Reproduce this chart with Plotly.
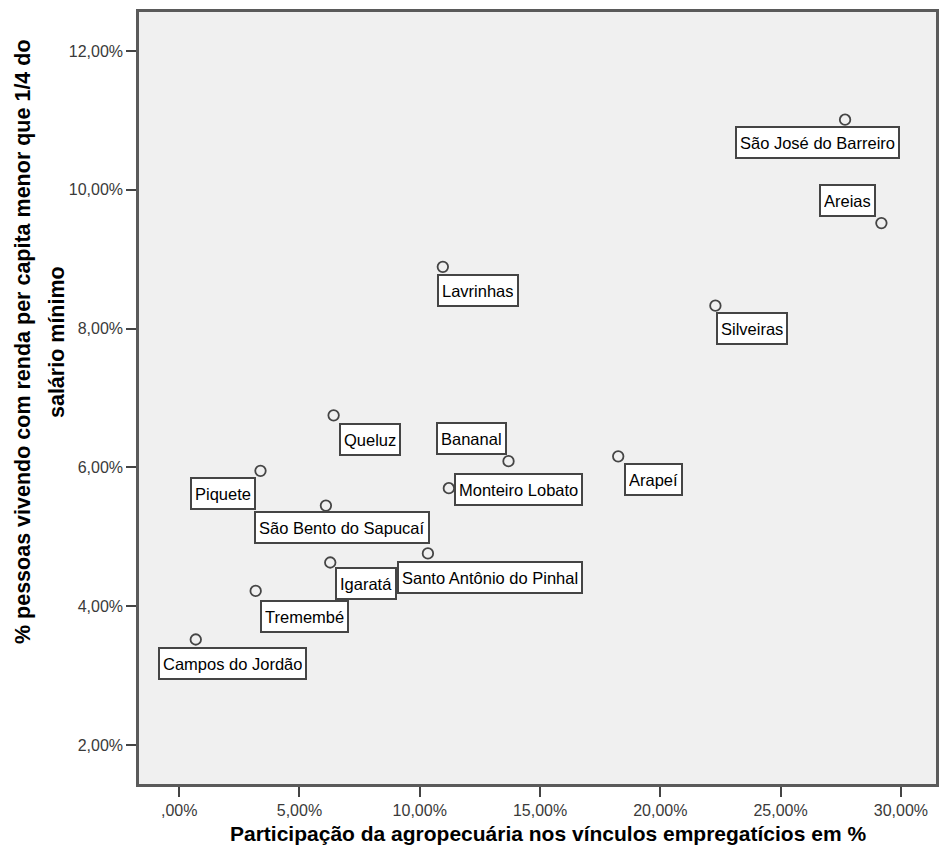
import plotly.graph_objects as go

# Municipalities and their values (both axes in %)
municipios = [
    "São José do Barreiro", "Areias", "Silveiras", "Lavrinhas", "Queluz",
    "Bananal", "Arapeí", "Monteiro Lobato", "Piquete", "São Bento do Sapucaí",
    "Santo Antônio do Pinhal", "Igaratá", "Tremembé", "Campos do Jordão",
]
agropecuaria = [27.68, 29.19, 22.29, 10.96, 6.42, 13.69, 18.25, 11.21,
                3.38, 6.10, 10.34, 6.28, 3.18, 0.69]
renda_quarto_sm = [11.01, 9.52, 8.33, 8.89, 6.75, 6.09, 6.16, 5.70,
                   5.95, 5.45, 4.76, 4.63, 4.22, 3.52]

x_tickvals = [0, 5, 10, 15, 20, 25, 30]
x_ticktext = [",00%", "5,00%", "10,00%", "15,00%", "20,00%", "25,00%", "30,00%"]
y_tickvals = [2, 4, 6, 8, 10, 12]
y_ticktext = ["2,00%", "4,00%", "6,00%", "8,00%", "10,00%", "12,00%"]

# Pixel offset of each label box centre from its marker (right, down)
label_offsets = {
    "São José do Barreiro": (-28, 23),
    "Areias": (-34, -23),
    "Silveiras": (37, 23),
    "Lavrinhas": (35, 24),
    "Queluz": (36, 24),
    "Bananal": (-37, -23),
    "Arapeí": (35, 23),
    "Monteiro Lobato": (70, 1),
    "Piquete": (-37, 23),
    "São Bento do Sapucaí": (16, 22),
    "Santo Antônio do Pinhal": (62, 24),
    "Igaratá": (36, 21),
    "Tremembé": (49, 26),
    "Campos do Jordão": (37, 24),
}

FONT = "Liberation Sans, Arial, sans-serif"

fig = go.Figure()
fig.add_trace(go.Scatter(
    x=agropecuaria, y=renda_quarto_sm, mode="markers",
    marker=dict(symbol="circle-open", size=10.5, color="#454545",
                line=dict(width=1.8)),
    hoverinfo="text", text=municipios, showlegend=False,
))

annotations = []
for name, xv, yv in zip(municipios, agropecuaria, renda_quarto_sm):
    dx, dy = label_offsets[name]
    annotations.append(dict(
        x=xv, y=yv, xref="x", yref="y", text=name, showarrow=False,
        xanchor="center", yanchor="middle", xshift=dx, yshift=-dy,
        font=dict(family=FONT, size=16.5, color="#000000"),
        bgcolor="#ffffff", bordercolor="#454545", borderwidth=2,
        borderpad=3, height=23,
    ))

# Axis titles
annotations.append(dict(
    x=0.5, y=-0.0635, xref="paper", yref="paper", showarrow=False,
    text="<b>Participação da agropecuária nos vínculos empregatícios em %</b>",
    xanchor="center", yanchor="middle", xshift=10,
    font=dict(family=FONT, size=21, color="#000000"),
))
annotations.append(dict(
    x=0, y=0.5725, xref="paper", yref="paper", showarrow=False,
    text="<b>% pessoas vivendo com renda per capita menor que 1/4 do</b>",
    textangle=-90, xanchor="center", yanchor="middle", xshift=-116,
    font=dict(family=FONT, size=21.5, color="#000000"),
))
annotations.append(dict(
    x=0, y=0.5725, xref="paper", yref="paper", showarrow=False,
    text="<b>salário mínimo</b>",
    textangle=-90, xanchor="center", yanchor="middle", xshift=-82,
    font=dict(family=FONT, size=21.5, color="#000000"),
))

axis_common = dict(
    showgrid=False, zeroline=False, showline=True, mirror=True,
    linecolor="#5a5a5a", linewidth=2.5,
    ticks="outside", ticklen=10, tickwidth=1.8, tickcolor="#444444",
    tickfont=dict(family=FONT, size=16, color="#3a3a3a"),
)

fig.update_layout(
    width=939, height=863,
    margin=dict(l=139, r=0, t=12, b=79),
    paper_bgcolor="#ffffff", plot_bgcolor="#f0f0f0",
    xaxis=dict(range=[-1.67, 31.46], tickvals=x_tickvals,
               ticktext=x_ticktext, **axis_common),
    yaxis=dict(range=[1.438, 12.562], tickvals=y_tickvals,
               ticktext=y_ticktext, **axis_common),
    annotations=annotations,
    font=dict(family=FONT),
)

fig.write_html("out.html")
